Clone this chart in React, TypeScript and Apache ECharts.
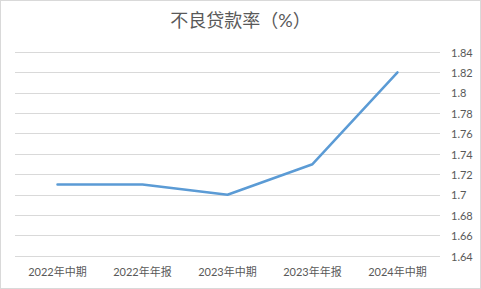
import React, { useEffect, useRef } from "react";
import * as echarts from "echarts";

const categories = ["2022年中期", "2022年年报", "2023年中期", "2023年年报", "2024年中期"];
const nplRatio = [1.71, 1.71, 1.7, 1.73, 1.82];
const yMin = 1.64;
const yMax = 1.84;
const yStep = 0.02;

const FONT = "Lato, 'Noto Sans CJK SC', sans-serif";

export default function App() {
  const ref = useRef<HTMLDivElement>(null);

  useEffect(() => {
    if (!ref.current) return;
    const chart = echarts.init(ref.current, undefined, { renderer: "svg" });
    chart.setOption({
      animation: false,
      backgroundColor: "#ffffff",
      title: {
        text: "不良贷款率（%）",
        left: "center",
        top: 10,
        padding: [0, 0, 0, 24],
        textStyle: {
          fontFamily: FONT,
          fontSize: 18,
          fontWeight: "normal",
          color: "#595959",
        },
      },
      grid: { left: 14, right: 40, top: 51, bottom: 32 },
      xAxis: {
        type: "category",
        data: categories,
        boundaryGap: true,
        axisLine: { show: false },
        axisTick: { show: false },
        axisLabel: {
          color: "#595959",
          fontSize: 11,
          fontFamily: FONT,
          margin: 10,
        },
      },
      yAxis: {
        type: "value",
        position: "right",
        min: yMin,
        max: yMax,
        interval: yStep,
        axisLine: { show: false },
        axisTick: { show: false },
        splitLine: { lineStyle: { color: "#d9d9d9", width: 1 } },
        axisLabel: {
          color: "#595959",
          fontSize: 11,
          fontFamily: FONT,
          margin: 11,
          align: "left",
          formatter: (v: number) => String(parseFloat(v.toFixed(2))),
        },
      },
      series: [
        {
          type: "line",
          data: nplRatio,
          showSymbol: false,
          symbol: "none",
          lineStyle: { color: "#5b9bd5", width: 2.5, cap: "round" },
        },
      ],
    });
    return () => chart.dispose();
  }, []);

  return (
    <div
      style={{
        position: "fixed",
        left: 0,
        top: 0,
        width: 481,
        height: 289,
        boxSizing: "border-box",
        border: "1px solid #d9d9d9",
        background: "#fff",
      }}
    >
      <div ref={ref} style={{ width: 479, height: 287 }} />
    </div>
  );
}
